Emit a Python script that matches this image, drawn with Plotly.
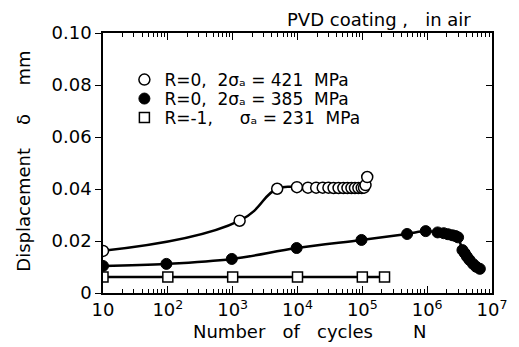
import plotly.graph_objects as go

# Displacement vs number of cycles, PVD coated specimens tested in air
N_open = [10, 1280, 4860, 9800, 14500, 19400, 24500, 30000, 36000, 43000,
          51000, 59000, 68000, 77000, 87000, 98000, 106000, 112000, 119000]
d_open = [0.0162, 0.0278, 0.0401, 0.0407, 0.0405, 0.0405, 0.0405, 0.0405, 0.0404, 0.0404,
          0.0404, 0.0404, 0.0404, 0.0404, 0.0404, 0.0404, 0.0405, 0.0415, 0.0446]

N_filled = [10, 95, 970, 9700, 97000, 490000, 950000, 1.45e6, 1.8e6, 2.1e6,
            2.45e6, 2.75e6, 3.0e6, 3.5e6, 3.8e6, 4.1e6, 4.5e6, 5.1e6, 5.7e6, 6.5e6]
d_filled = [0.0104, 0.0112, 0.0131, 0.0173, 0.0204, 0.0227, 0.0238, 0.0233, 0.0230, 0.0226,
            0.0222, 0.0219, 0.0214, 0.0165, 0.0153, 0.0140, 0.0127, 0.0112, 0.0101, 0.0093]

N_square = [10, 100, 1000, 10000, 100000, 220000]
d_square = [0.0062, 0.0062, 0.0062, 0.0062, 0.0062, 0.0062]

series_names = [
    "R=0,  2σₐ = 421  MPa",
    "R=0,  2σₐ = 385  MPa",
    "R=-1,     σₐ = 231  MPa",
]

x_tick_vals = [10, 100, 1000, 1e4, 1e5, 1e6, 1e7]
x_tick_text = ["10", "10<sup>2</sup>", "10<sup>3</sup>", "10<sup>4</sup>",
               "10<sup>5</sup>", "10<sup>6</sup>", "10<sup>7</sup>"]
y_tick_vals = [0, 0.02, 0.04, 0.06, 0.08, 0.10]
y_tick_text = ["0", "0.02", "0.04", "0.06", "0.08", "0.10"]

FONT = "DejaVu Sans"
INK = "black"
FS = 18

fig = go.Figure()

# smooth curves through each series
for xs, ys, sm in [(N_open, d_open, 1.3), (N_filled, d_filled, 1.0), (N_square, d_square, 0)]:
    fig.add_trace(go.Scatter(
        x=xs, y=ys, mode="lines", showlegend=False, hoverinfo="skip",
        line=dict(color=INK, width=2.5, shape="spline" if sm else "linear",
                  smoothing=sm if sm else None),
    ))

# measured points, each with its own legend row
fig.add_trace(go.Scatter(
    x=N_open, y=d_open, mode="markers", name=series_names[0], legend="legend",
    marker=dict(symbol="circle", size=11, color="white", line=dict(color=INK, width=1.5)),
))
fig.add_trace(go.Scatter(
    x=N_filled, y=d_filled, mode="markers", name=series_names[1], legend="legend2",
    marker=dict(symbol="circle", size=11, color=INK, line=dict(color=INK, width=1)),
))
fig.add_trace(go.Scatter(
    x=N_square, y=d_square, mode="markers", name=series_names[2], legend="legend3",
    marker=dict(symbol="square", size=10, color="white", line=dict(color=INK, width=1.5)),
))

# invisible trace carrying the right-hand y axis (inward ticks)
fig.add_trace(go.Scatter(x=[None], y=[None], yaxis="y2", showlegend=False))

legend_base = dict(
    x=0.055, xanchor="left", yanchor="middle",
    bgcolor="rgba(0,0,0,0)", borderwidth=0,
    font=dict(family=FONT, size=17, color=INK), itemwidth=30,
)

fig.update_layout(
    width=519, height=347,
    margin=dict(l=103, r=23, t=33, b=54),
    paper_bgcolor="white", plot_bgcolor="white",
    font=dict(family=FONT, size=FS, color=INK),
    showlegend=True,
    legend=dict(legend_base, y=(293 - 80) / 260),
    legend2=dict(legend_base, y=(293 - 99) / 260),
    legend3=dict(legend_base, y=(293 - 118) / 260),
    xaxis=dict(
        type="log", range=[1, 7],
        tickvals=x_tick_vals, ticktext=x_tick_text,
        ticks="inside", ticklen=7, tickwidth=1.2, tickcolor=INK,
        minor=dict(ticks="inside", ticklen=4, tickwidth=1, tickcolor=INK, dtick="D1"),
        showline=True, linecolor=INK, linewidth=1.5, mirror="ticks",
        showgrid=False, zeroline=False,
        tickfont=dict(family=FONT, size=FS, color=INK),
    ),
    yaxis=dict(
        range=[0, 0.10],
        tickvals=y_tick_vals, ticktext=y_tick_text,
        ticks="outside", ticklen=6, tickwidth=1.2, tickcolor=INK,
        showline=True, linecolor=INK, linewidth=1.5, mirror=True,
        showgrid=False, zeroline=False,
        tickfont=dict(family=FONT, size=FS, color=INK),
    ),
    yaxis2=dict(
        range=[0, 0.10], overlaying="y", side="right",
        tickvals=y_tick_vals, showticklabels=False,
        ticks="inside", ticklen=6, tickwidth=1.2, tickcolor=INK,
        showline=False, showgrid=False, zeroline=False,
    ),
    annotations=[
        dict(text="PVD coating ,   in air", xref="paper", yref="paper",
             x=0.71, y=1.0, xanchor="center", yanchor="bottom", yshift=1,
             showarrow=False, font=dict(family=FONT, size=FS, color=INK)),
        dict(text="Number   of   cycles       N", xref="paper", yref="paper",
             x=0.53, y=0, xanchor="center", yanchor="top", yshift=-26,
             showarrow=False, font=dict(family=FONT, size=FS, color=INK)),
        dict(text="Displacement    δ     mm", xref="paper", yref="paper",
             x=0, y=0.505, xanchor="center", yanchor="middle", xshift=-79,
             textangle=-90, showarrow=False, font=dict(family=FONT, size=FS, color=INK)),
    ],
)

fig.write_html("out.html")
